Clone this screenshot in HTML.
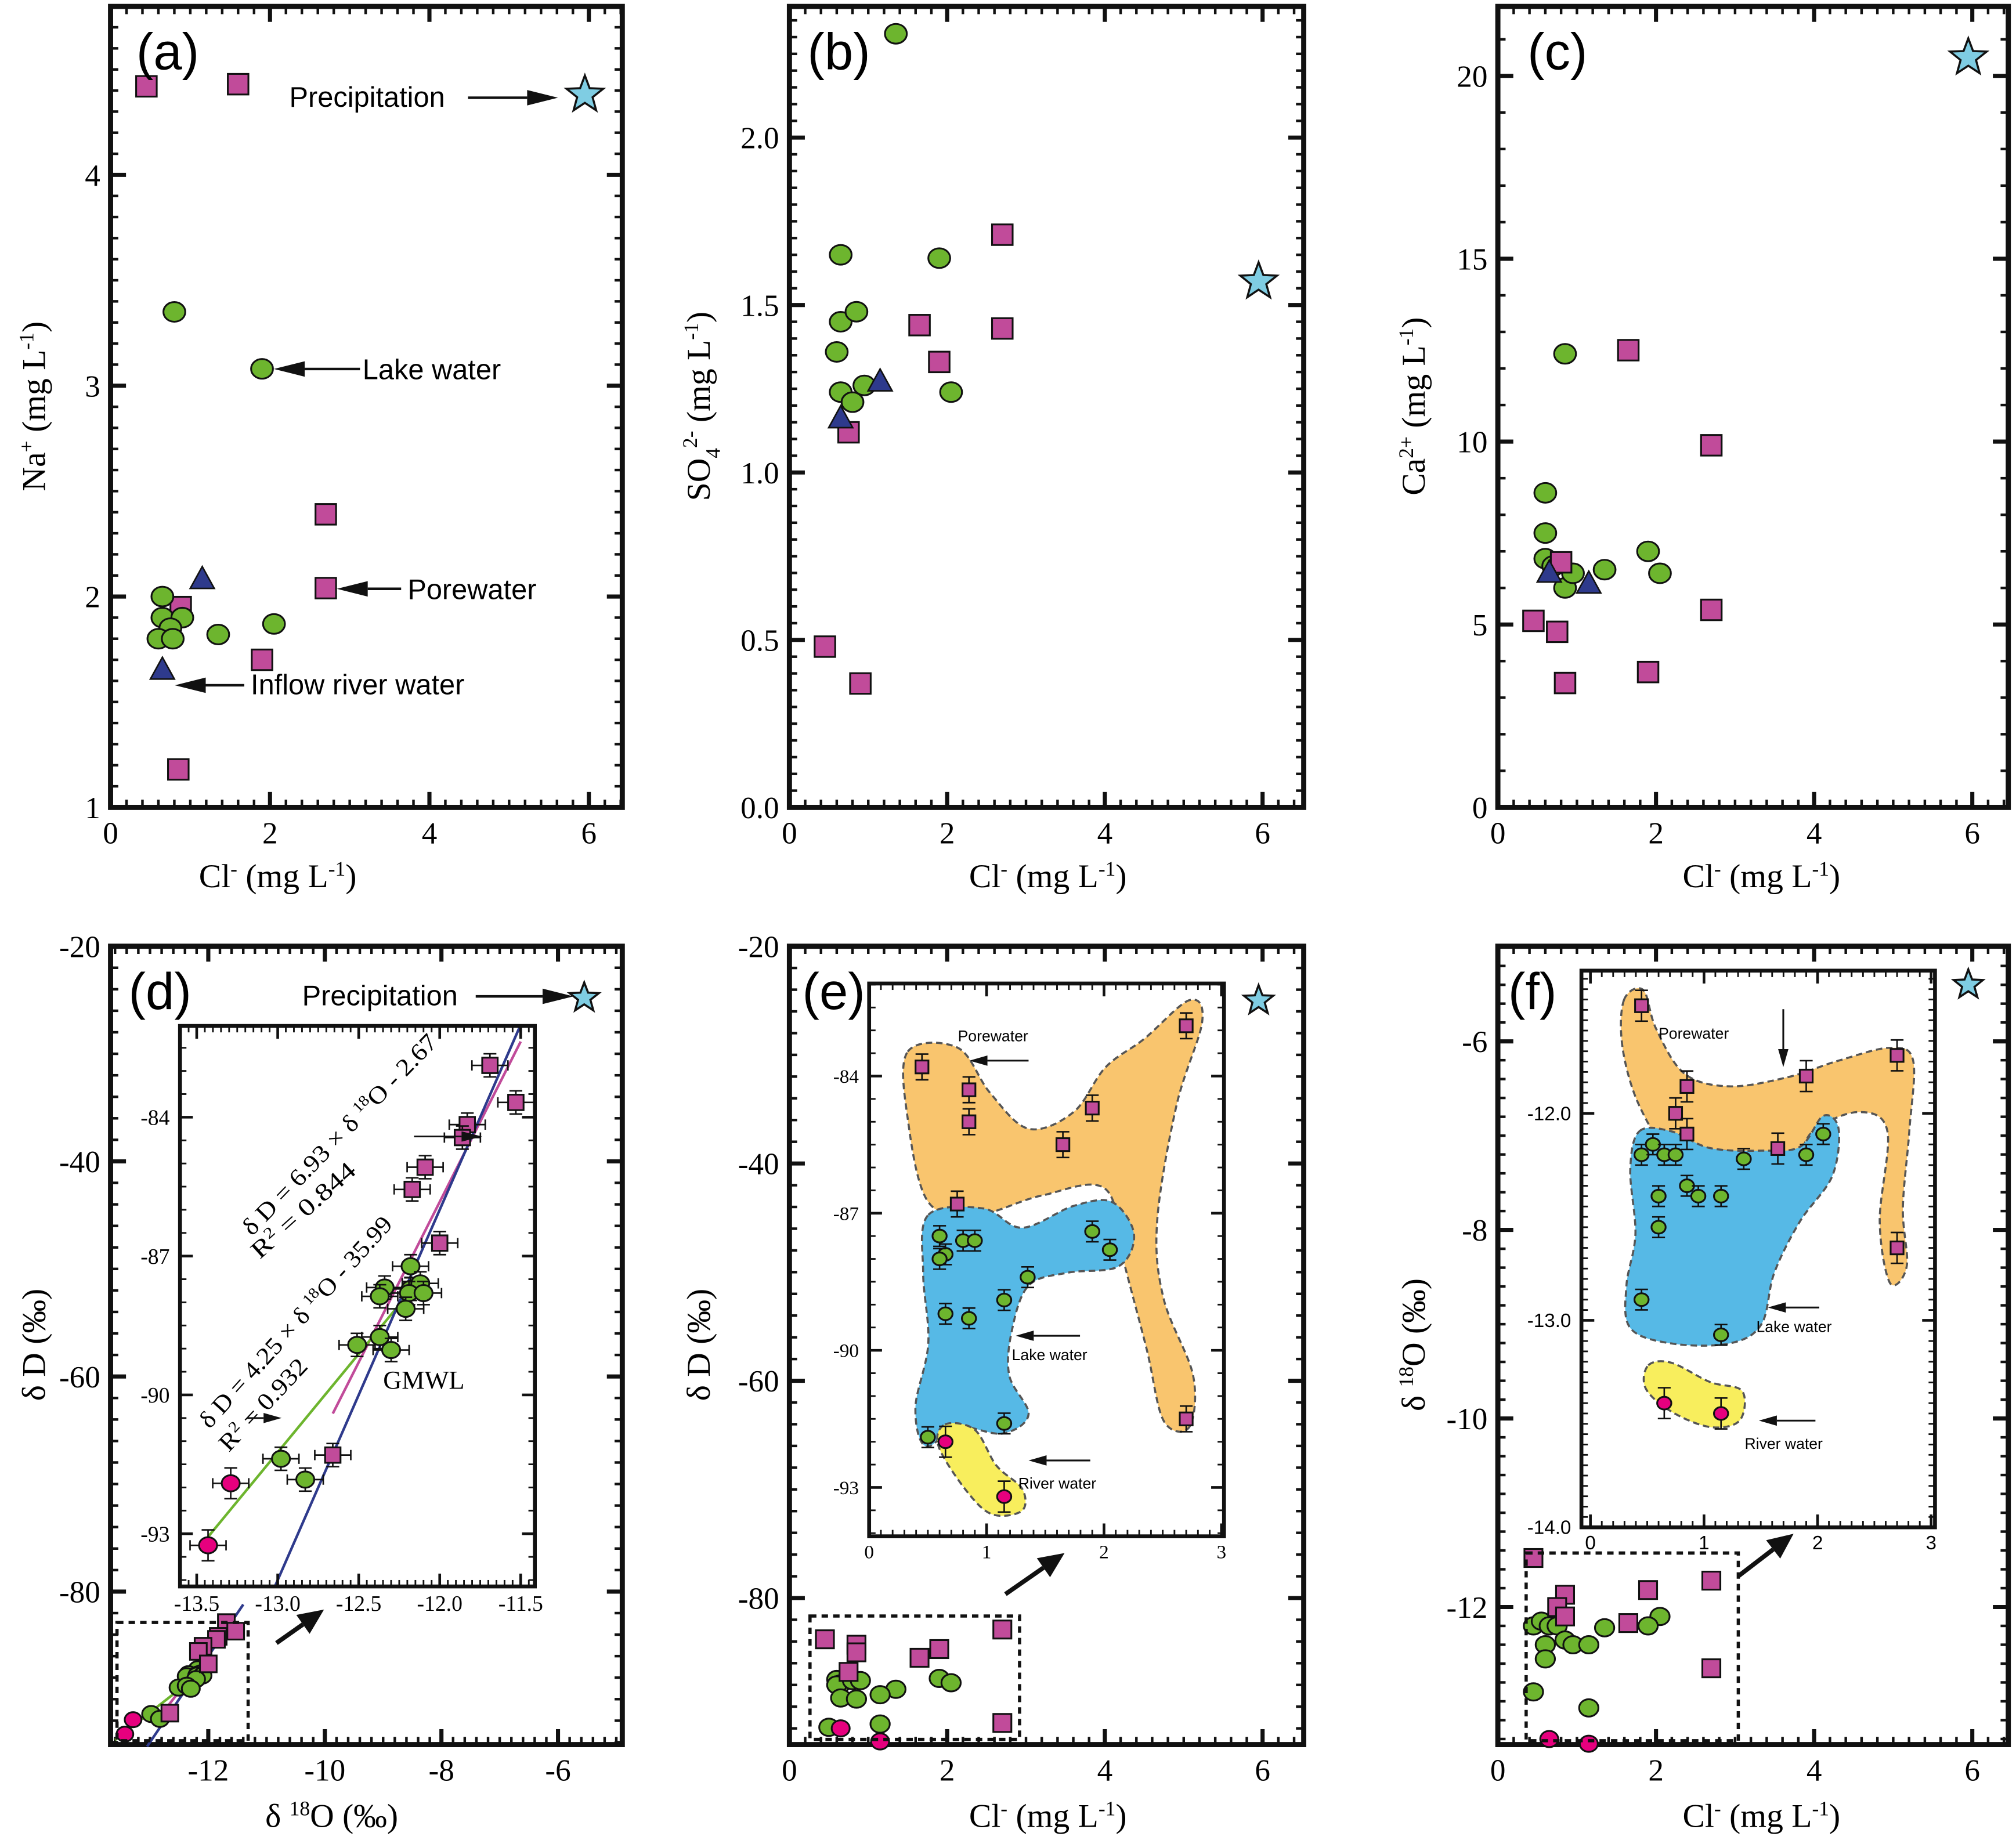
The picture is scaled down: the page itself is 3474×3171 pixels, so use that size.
<!DOCTYPE html>
<html><head><meta charset="utf-8"><style>
html,body{margin:0;padding:0;background:#fff}
svg{display:block}
.sr{font-family:"Liberation Serif",serif}
.ss{font-family:"Liberation Sans",sans-serif}
</style></head><body>
<svg id="fig" xmlns="http://www.w3.org/2000/svg" width="3474" height="3171" viewBox="0 0 1568 1431.2">
<rect x="0" y="0" width="1568" height="1431.2" fill="#fff"/>
<defs><clipPath id="clipd"><rect x="140" y="798" width="276" height="436"/></clipPath></defs>
<g id="root"></g>
</svg>
<script>
// ---------- data ----------
const aPoreCl=[0.45,1.6,2.7,2.7,0.88,0.75,1.9,0.85];
const aPoreNa=[4.42,4.43,2.39,2.04,1.95,1.83,1.70,1.18];
const aLakeCl=[0.8,1.9,0.65,0.65,0.9,0.75,0.6,1.35,2.05,0.78];
const aLakeNa=[3.35,3.08,2.0,1.9,1.9,1.85,1.8,1.82,1.87,1.8];
const aRivCl=[1.15,0.65];
const aRivNa=[2.08,1.65];
const aPrecCl=[5.95];
const aPrecNa=[4.38];

const bLakeCl=[1.35,0.65,1.9,0.65,0.85,0.6,0.65,0.95,2.05,0.8];
const bLakeSO4=[2.31,1.65,1.64,1.45,1.48,1.36,1.24,1.26,1.24,1.21];
const bPoreCl=[2.7,1.65,2.7,1.9,0.75,0.45,0.9];
const bPoreSO4=[1.71,1.44,1.43,1.33,1.12,0.48,0.37];
const bRivCl=[0.65,1.15];
const bRivSO4=[1.16,1.27];
const bPrecCl=[5.95];
const bPrecSO4=[1.57];

const cLakeCl=[0.85,0.6,0.6,0.6,1.35,1.9,2.05,0.85,0.95,0.7];
const cLakeCa=[12.4,8.6,7.5,6.8,6.5,7.0,6.4,6.0,6.4,6.6];
const cPoreCl=[1.65,2.7,0.8,2.7,0.45,0.75,0.85,1.9];
const cPoreCa=[12.5,9.9,6.7,5.4,5.1,4.8,3.4,3.7];
const cRivCl=[0.65,1.15];
const cRivCa=[6.4,6.1];
const cPrecCl=[5.95];
const cPrecCa=[20.5];

const dPoreO=[-11.69,-11.53,-11.83,-11.86,-12.09,-12.17,-12.0,-12.66];
const dPoreD=[-82.88,-83.68,-84.16,-84.44,-85.08,-85.56,-86.72,-91.3];
const dLakeO=[-12.18,-12.34,-12.37,-12.18,-12.12,-12.19,-12.10,-12.21,-12.51,-12.37,-12.30,-12.98,-12.83];
const dLakeD=[-87.22,-87.68,-87.87,-87.71,-87.59,-87.8,-87.8,-88.14,-88.92,-88.75,-89.03,-91.38,-91.83];
const dRivO=[-13.29,-13.43];
const dRivD=[-91.91,-93.25];
const dPrecO=[-5.55];
const dPrecD=[-24.8];

const ePoreCl=[0.45,0.85,0.85,2.7,1.9,1.65,0.75,2.7];
const ePoreD=[-83.8,-84.3,-85.0,-82.9,-84.7,-85.5,-86.8,-91.5];
const eLakeCl=[0.6,0.65,0.6,0.8,0.9,1.9,2.05,1.35,1.15,0.65,0.85,0.5,1.15];
const eLakeD=[-87.5,-87.9,-88.0,-87.6,-87.6,-87.4,-87.8,-88.4,-88.9,-89.2,-89.3,-91.9,-91.6];
const eRivCl=[0.65,1.15];
const eRivD=[-92.0,-93.2];
const ePrecCl=[5.95];
const ePrecD=[-25.0];

const fPoreCl=[0.45,2.7,0.85,1.9,0.75,0.85,1.65,2.7];
const fPoreO=[-11.48,-11.72,-11.87,-11.82,-12.0,-12.1,-12.17,-12.65];
const fLakeCl=[0.45,0.55,0.65,0.75,2.05,1.9,1.35,0.85,0.95,0.6,1.15,0.6,0.45,1.15];
const fLakeO=[-12.2,-12.15,-12.2,-12.2,-12.1,-12.2,-12.22,-12.35,-12.4,-12.4,-12.4,-12.55,-12.9,-13.07];
const fRivCl=[0.65,1.15];
const fRivO=[-13.4,-13.45];
const fPrecCl=[5.95];
const fPrecO=[-5.4];

const lineSlopes=[6.93,4.25,8];
const lineIntercepts=[-2.67,-35.99,10];

// ---------- helpers ----------
const NS="http://www.w3.org/2000/svg";
const root=document.getElementById('root');
function el(tag,attrs,parent){const e=document.createElementNS(NS,tag);for(const k in attrs)e.setAttribute(k,attrs[k]);(parent||root).appendChild(e);return e;}
function txt(s,attrs,parent){const e=el('text',attrs,parent);e.textContent=s;return e;}
function scale(d0,p0,d1,p1){return v=>p0+(v-d0)*(p1-p0)/(d1-d0);}
const C={pore:'#c14b9a',lake:'#6db52e',riv:'#2e3a8c',red:'#e6007e',prec:'#7fcde3'};

function frame(x0,y0,x1,y1,sw,name){
  const r=el('rect',{x:x0,y:y0,width:x1-x0,height:y1-y0,fill:'none',stroke:'#111','stroke-width':sw});
  
}
function ticks(P,xMaj,xMin,yMaj,yMin,L,l,sw){
  const g=el('g',{stroke:'#111'});
  
  xMin.forEach(v=>{const x=P.sx(v);if(x<P.x0||x>P.x1)return;
    el('line',{x1:x,x2:x,y1:P.y1,y2:P.y1-l,'stroke-width':sw},g);el('line',{x1:x,x2:x,y1:P.y0,y2:P.y0+l,'stroke-width':sw},g);});
  xMaj.forEach(v=>{const x=P.sx(v);
    el('line',{x1:x,x2:x,y1:P.y1,y2:P.y1-L,'stroke-width':sw*1.6},g);el('line',{x1:x,x2:x,y1:P.y0,y2:P.y0+L,'stroke-width':sw*1.6},g);});
  yMin.forEach(v=>{const y=P.sy(v);if(y<P.y0||y>P.y1)return;
    el('line',{x1:P.x0,x2:P.x0+l,y1:y,y2:y,'stroke-width':sw},g);el('line',{x1:P.x1,x2:P.x1-l,y1:y,y2:y,'stroke-width':sw},g);});
  yMaj.forEach(v=>{const y=P.sy(v);
    el('line',{x1:P.x0,x2:P.x0+L,y1:y,y2:y,'stroke-width':sw*1.6},g);el('line',{x1:P.x1,x2:P.x1-L,y1:y,y2:y,'stroke-width':sw*1.6},g);});
}
function range(a,b,s){const r=[];for(let v=a;v<=b+1e-9;v+=s)r.push(+v.toFixed(6));return r;}
function tickLabels(P,xs,xl,ys,yl,fs,cls,dy){
  xs.forEach((v,i)=>{const t=txt(xl[i],{x:P.sx(v),y:P.y1+fs+(dy||4),'font-size':fs,'text-anchor':'middle',class:cls});
    });
  ys.forEach((v,i)=>{const t=txt(yl[i],{x:P.x0-8,y:P.sy(v)+fs*0.35,'font-size':fs,'text-anchor':'end',class:cls});
    });
}
function sq(P,xs,ys,s,err){xs.forEach((v,i)=>{const x=P.sx(v),y=P.sy(ys[i]);
  if(err)ebar(x,y,err);
  const r=el('rect',{x:x-s/2,y:y-s/2,width:s,height:s,fill:C.pore,stroke:'#111','stroke-width':1.4});
  });}
function circ(P,xs,ys,r,col,err,name){xs.forEach((v,i)=>{const x=P.sx(v),y=P.sy(ys[i]);
  if(err)ebar(x,y,err);
  const c=el('ellipse',{cx:x,cy:y,rx:r,ry:r*0.9,fill:col,stroke:'#111','stroke-width':1.4});
  });}
function tri(P,xs,ys,s){xs.forEach((v,i)=>{const x=P.sx(v),y=P.sy(ys[i]);
  const t=el('polygon',{points:`${x},${y-s*0.6} ${x+s*0.55},${y+s*0.4} ${x-s*0.55},${y+s*0.4}`,fill:C.riv,stroke:'#111','stroke-width':1.2});
  });}
function star(P,xs,ys,R){xs.forEach((v,i)=>{const x=P.sx(v),y=P.sy(ys[i]);let pts=[];
  for(let k=0;k<10;k++){const a=-Math.PI/2+k*Math.PI/5;const rr=k%2?R*0.42:R;pts.push((x+rr*Math.cos(a)).toFixed(1)+','+(y+rr*Math.sin(a)).toFixed(1));}
  const s=el('polygon',{points:pts.join(' '),fill:C.prec,stroke:'#111','stroke-width':1.6});
  });}
function ebar(x,y,e){const g=el('g',{stroke:'#111','stroke-width':1.2});
  el('line',{x1:x,x2:x,y1:y-e,y2:y+e},g);el('line',{x1:x-5,x2:x+5,y1:y-e,y2:y-e},g);el('line',{x1:x-5,x2:x+5,y1:y+e,y2:y+e},g);}
function hbar(x,y,e){const g=el('g',{stroke:'#111','stroke-width':1.2});
  el('line',{x1:x-e,x2:x+e,y1:y,y2:y},g);el('line',{x1:x-e,x2:x-e,y1:y-4,y2:y+4},g);el('line',{x1:x+e,x2:x+e,y1:y-4,y2:y+4},g);}
function arrow(x1,y1,x2,y2,w,hw,hl,name){
  const dx=x2-x1,dy=y2-y1,L=Math.hypot(dx,dy),ux=dx/L,uy=dy/L,bx=x2-ux*hl,by=y2-uy*hl;
  const g=el('g',{});
  el('line',{x1:x1,y1:y1,x2:bx,y2:by,stroke:'#111','stroke-width':w},g);
  el('polygon',{points:`${x2},${y2} ${bx-uy*hw},${by+ux*hw} ${bx+uy*hw},${by-ux*hw}`,fill:'#111'},g);}
function label(s,x,y,fs,cls,name,extra){const t=txt(s,Object.assign({x:x,y:y,'font-size':fs,class:cls},extra||{}));
  return t;}
function ylab(html,x,y,fs,name){const t=el('text',{transform:`translate(${x},${y}) rotate(-90)`,'font-size':fs,'text-anchor':'middle',class:'sr'});
  t.innerHTML=html;}
function xlab(html,x,y,fs,name){const t=el('text',{x:x,y:y,'font-size':fs,'text-anchor':'middle',class:'sr'});
  t.innerHTML=html;}
function blob(d,fill,name){const p=el('path',{d:d,fill:fill,stroke:'#555','stroke-width':1.6,'stroke-dasharray':'5,3'});
  }
function smooth(pts){let d='M'+pts[0].join(',');const n=pts.length;
  for(let i=0;i<n;i++){const p0=pts[(i-1+n)%n],p1=pts[i],p2=pts[(i+1)%n],p3=pts[(i+2)%n];
    const c1=[p1[0]+(p2[0]-p0[0])/6,p1[1]+(p2[1]-p0[1])/6],c2=[p2[0]-(p3[0]-p1[0])/6,p2[1]-(p3[1]-p1[1])/6];
    d+=` C${c1[0].toFixed(1)},${c1[1].toFixed(1)} ${c2[0].toFixed(1)},${c2[1].toFixed(1)} ${p2[0]},${p2[1]}`;}
  return d+'Z';}
function rotText(html,x1,y1,x2,y2,fs,name){const ang=Math.atan2(y2-y1,x2-x1)*180/Math.PI,len=Math.hypot(x2-x1,y2-y1);
  const t=el('text',{transform:`translate(${x1},${y1}) rotate(${ang.toFixed(1)})`,'font-size':fs,class:'sr',textLength:len.toFixed(0),lengthAdjust:'spacingAndGlyphs'});
  t.innerHTML=html;}
const clLab='Cl<tspan dy="-9" font-size="16">-</tspan><tspan dy="9"> (mg L</tspan><tspan dy="-9" font-size="16">-1</tspan><tspan dy="9">)</tspan>';
const FS=24, LFS=26;

// ---------- panel a ----------
{const P={x0:86,x1:484,y0:5,y1:628};P.sx=scale(0,86,6,458);P.sy=scale(1,628,4,136);
 frame(P.x0,P.y0,P.x1,P.y1,4,'panel-a-frame');
 ticks(P,[0,2,4,6],range(0,6.4,0.2),[1,2,3,4],range(1,4.8,0.1),12,6,2);
 tickLabels(P,[0,2,4,6],['0','2','4','6'],[1,2,3,4],['1','2','3','4'],FS,'sr');
 sq(P,aPoreCl,aPoreNa,16);circ(P,aLakeCl,aLakeNa,8.5,C.lake,0,'lake-water-point');tri(P,aRivCl,aRivNa,17);star(P,aPrecCl,aPrecNa,15);
 label('(a)',106,54,40,'ss','panel-a-label');
 label('Precipitation',225,83,22,'ss','precipitation-annotation');arrow(364,76,434,76,2,6,24,'precipitation-arrow');
 label('Lake water',282,295,22,'ss','lake-water-annotation');arrow(280,287,213,287,2,6,24,'lake-water-arrow');
 label('Porewater',317,466,22,'ss','porewater-annotation');arrow(312,458,262,458,2,6,24,'porewater-arrow');
 label('Inflow river water',195,540,22,'ss','inflow-river-annotation');arrow(190,533,136,533,2,6,24,'inflow-river-arrow');
 ylab('Na<tspan dy="-9" font-size="16">+</tspan><tspan dy="9"> (mg L</tspan><tspan dy="-9" font-size="16">-1</tspan><tspan dy="9">)</tspan>',35,316,LFS,'y-axis-title-a');
 xlab(clLab,216,690,LFS,'x-axis-title-a');}

// ---------- panel b ----------
{const P={x0:614,x1:1014,y0:5,y1:628};P.sx=scale(0,614,6,982);P.sy=scale(0,628,2,107);
 frame(P.x0,P.y0,P.x1,P.y1,4,'panel-b-frame');
 ticks(P,[0,2,4,6],range(0,6.4,0.2),[0,0.5,1,1.5,2],range(0,2.4,0.05),12,6,2);
 tickLabels(P,[0,2,4,6],['0','2','4','6'],[0,0.5,1,1.5,2],['0.0','0.5','1.0','1.5','2.0'],FS,'sr');
 circ(P,bLakeCl,bLakeSO4,8.5,C.lake,0,'lake-water-point');sq(P,bPoreCl,bPoreSO4,16);tri(P,bRivCl,bRivSO4,17);star(P,bPrecCl,bPrecSO4,15);
 label('(b)',628,54,40,'ss','panel-b-label');
 ylab('SO<tspan dy="8" font-size="16">4</tspan><tspan dy="-18" font-size="16">2-</tspan><tspan dy="10"> (mg L</tspan><tspan dy="-9" font-size="16">-1</tspan><tspan dy="9">)</tspan>',552,316,LFS,'y-axis-title-b');
 xlab(clLab,815,690,LFS,'x-axis-title-b');}

// ---------- panel c ----------
{const P={x0:1165,x1:1562,y0:5,y1:628};P.sx=scale(0,1165,6,1534);P.sy=scale(0,628,20,59);
 frame(P.x0,P.y0,P.x1,P.y1,4,'panel-c-frame');
 ticks(P,[0,2,4,6],range(0,6.4,0.2),[0,5,10,15,20],range(0,21.5,1),12,6,2);
 tickLabels(P,[0,2,4,6],['0','2','4','6'],[0,5,10,15,20],['0','5','10','15','20'],FS,'sr');
 circ(P,cLakeCl,cLakeCa,8.5,C.lake,0,'lake-water-point');sq(P,cPoreCl,cPoreCa,16);tri(P,cRivCl,cRivCa,17);star(P,cPrecCl,cPrecCa,15);
 label('(c)',1188,54,40,'ss','panel-c-label');
 ylab('Ca<tspan dy="-9" font-size="16">2+</tspan><tspan dy="9"> (mg L</tspan><tspan dy="-9" font-size="16">-1</tspan><tspan dy="9">)</tspan>',1108,316,LFS,'y-axis-title-c');
 xlab(clLab,1370,690,LFS,'x-axis-title-c');}

// ---------- panel d ----------
{const P={x0:86,x1:484,y0:736,y1:1357};P.sx=scale(-12,162,-6,434);P.sy=scale(-20,736,-80,1238);
 frame(P.x0,P.y0,P.x1,P.y1,4,'panel-d-frame');
 ticks(P,[-12,-10,-8,-6],range(-13.6,-5,0.2),[-20,-40,-60,-80],range(-94,-20,2),12,6,2);
 tickLabels(P,[-12,-10,-8,-6],['-12','-10','-8','-6'],[-20,-40,-60,-80],['-20','-40','-60','-80'],FS,'sr');
 const lx=[[-12.7,-11.55],[-13.6,-12.1],[-13.05,-11.4]],lc=[C.pore,C.lake,C.riv];
 lineSlopes.forEach((m,i)=>{el('line',{x1:P.sx(lx[i][0]),y1:P.sy(m*lx[i][0]+lineIntercepts[i]),x2:P.sx(lx[i][1]),y2:P.sy(m*lx[i][1]+lineIntercepts[i]),stroke:lc[i],'stroke-width':2});});
 circ(P,dLakeO,dLakeD,7,C.lake,4,'lake-water-point');sq(P,dPoreO,dPoreD,13,4);circ(P,dRivO,dRivD,6.5,C.red,0,'river-water-point');star(P,dPrecO,dPrecD,12);
 el('rect',{x:91,y:1262,width:102,height:92,fill:'none',stroke:'#111','stroke-width':2.5,'stroke-dasharray':'5,4'});
 arrow(215,1278,252,1252,3.5,9,20,'zoom-arrow-d');
 label('(d)',100,785,40,'ss','panel-d-label');
 label('Precipitation',235,782,22,'ss','precipitation-annotation');arrow(370,775,446,775,2,6,24,'precipitation-arrow');
 ylab('δ D (‰)',35,1046,LFS,'y-axis-title-d');
 xlab('δ <tspan dy="-9" font-size="16">18</tspan><tspan dy="9">O (‰)</tspan>',258,1421,LFS,'x-axis-title-d');
 // inset d
 const Q={x0:140,x1:416,y0:798,y1:1234};Q.sx=scale(-13,216,-12,342);Q.sy=scale(-84,869,-93,1193);
 el('rect',{x:140,y:798,width:276,height:436,fill:'#fff'});
 const lg=el('g',{'clip-path':'url(#clipd)'});
 lineSlopes.forEach((m,i)=>{const xs=[[-12.66,-11.5],[-13.43,-12.1],[-13.1,-11.3]][i];
   let x1=xs[0],x2=xs[1];
   const l=el('line',{x1:Q.sx(x1),y1:Q.sy(m*x1+lineIntercepts[i]),x2:Q.sx(x2),y2:Q.sy(m*x2+lineIntercepts[i]),stroke:lc[i],'stroke-width':2},lg);
   });
 frame(Q.x0,Q.y0,Q.x1,Q.y1,3,'inset-d-frame');
 ticks(Q,[-13.5,-13,-12.5,-12,-11.5],range(-13.6,-11.4,0.05),[-84,-87,-90,-93],range(-94,-80,0.5),10,5,1.3);
 tickLabels(Q,[-13.5,-13,-12.5,-12,-11.5],['-13.5','-13.0','-12.5','-12.0','-11.5'],[-84,-87,-90,-93],['-84','-87','-90','-93'],17,'sr',2);
 dLakeO.forEach((v,i)=>hbar(Q.sx(v),Q.sy(dLakeD[i]),14));dPoreO.forEach((v,i)=>hbar(Q.sx(v),Q.sy(dPoreD[i]),14));dRivO.forEach((v,i)=>hbar(Q.sx(v),Q.sy(dRivD[i]),14));
 circ(Q,dLakeO,dLakeD,7,C.lake,9,'lake-water-point');sq(Q,dPoreO,dPoreD,12,9);circ(Q,dRivO,dRivD,7,C.red,12,'river-water-point');
 rotText('δ D = 6.93 × δ <tspan dy="-7" font-size="12">18</tspan><tspan dy="7">O - 2.67</tspan>',196,962,341,812,19,'equation-porewater');
 rotText('R<tspan dy="-7" font-size="12">2</tspan><tspan dy="7"> = 0.844</tspan>',202,980,278,912,19,'r2-porewater');
 rotText('δ D = 4.25 × δ <tspan dy="-7" font-size="12">18</tspan><tspan dy="7">O - 35.99</tspan>',163,1112,306,953,19,'equation-lake');
 rotText('R<tspan dy="-7" font-size="12">2</tspan><tspan dy="7"> = 0.932</tspan>',178,1130,240,1064,19,'r2-lake');
 label('GMWL',298,1080,20,'sr','gmwl-label');
 arrow(322,884,375,884,1.3,4,16,'porewater-line-arrow');arrow(192,1103,219,1103,1.3,4,14,'lake-line-arrow');}

// ---------- panel e ----------
{const P={x0:614,x1:1014,y0:736,y1:1357};P.sx=scale(0,614,6,982);P.sy=scale(-20,736,-80,1243);
 frame(P.x0,P.y0,P.x1,P.y1,4,'panel-e-frame');
 ticks(P,[0,2,4,6],range(0,6.4,0.2),[-20,-40,-60,-80],range(-94,-20,2),12,6,2);
 tickLabels(P,[0,2,4,6],['0','2','4','6'],[-20,-40,-60,-80],['-20','-40','-60','-80'],FS,'sr');
 circ(P,eLakeCl,eLakeD,7.5,C.lake,0,'lake-water-point');sq(P,ePoreCl,ePoreD,14);circ(P,eRivCl,eRivD,7,C.red,0,'river-water-point');star(P,ePrecCl,ePrecD,12);
 el('rect',{x:630,y:1257,width:163,height:96,fill:'none',stroke:'#111','stroke-width':2.5,'stroke-dasharray':'5,4'});
 arrow(782,1240,828,1208,3.5,9,20,'zoom-arrow-e');
 label('(e)',624,785,40,'ss','panel-e-label');
 ylab('δ D (‰)',552,1046,LFS,'y-axis-title-e');
 xlab(clLab,815,1421,LFS,'x-axis-title-e');
 const Q={x0:676,x1:952,y0:765,y1:1195};Q.sx=scale(0,676,3,950);Q.sy=scale(-84,837,-93,1157);
 el('rect',{x:676,y:765,width:276,height:430,fill:'#fff'});
 blob(smooth([[706,818],[745,815],[770,850],[800,878],[835,865],[860,830],[890,808],[925,778],[935,795],[915,860],[900,950],[905,1010],[928,1070],[925,1110],[905,1105],[892,1050],[875,985],[860,925],[810,930],[760,945],[722,935],[706,870]]),'#f9c56e','porewater-region');
 blob(smooth([[722,945],[765,940],[795,955],[835,938],[865,935],[882,960],[870,985],[830,990],[800,1000],[787,1035],[785,1070],[800,1100],[780,1115],[745,1110],[720,1125],[712,1095],[722,1045],[718,990]]),'#56b9e6','lake-region');
 blob(smooth([[735,1108],[758,1112],[775,1140],[795,1158],[795,1175],[772,1178],[752,1160],[730,1125]]),'#f8ee5d','river-region');
 frame(Q.x0,Q.y0,Q.x1,Q.y1,3,'inset-e-frame');
 ticks(Q,[0,1,2,3],range(0,3,0.1),[-84,-87,-90,-93],range(-94,-82,0.5),10,5,1.3);
 tickLabels(Q,[0,1,2,3],['0','1','2','3'],[-84,-87,-90,-93],['-84','-87','-90','-93'],15,'sr',2);
 circ(Q,eLakeCl,eLakeD,5.5,C.lake,8,'lake-water-point');sq(Q,ePoreCl,ePoreD,10,10);circ(Q,eRivCl,eRivD,5.5,C.red,12,'river-water-point');
 label('Porewater',745,810,12,'ss','porewater-annotation');arrow(800,825,754,825,1.4,4,14,'porewater-arrow');
 label('Lake water',787,1058,12,'ss','lake-water-annotation');arrow(840,1039,790,1039,1.4,4,14,'lake-water-arrow');
 label('River water',792,1158,12,'ss','river-water-annotation');arrow(848,1136,800,1136,1.4,4,14,'river-water-arrow');}

// ---------- panel f ----------
{const P={x0:1165,x1:1562,y0:736,y1:1357};P.sx=scale(0,1165,6,1534);P.sy=scale(-6,810,-12,1250);
 frame(P.x0,P.y0,P.x1,P.y1,4,'panel-f-frame');
 ticks(P,[0,2,4,6],range(0,6.4,0.2),[-6,-8,-10,-12],range(-13.4,-5,0.2),12,6,2);
 tickLabels(P,[0,2,4,6],['0','2','4','6'],[-6,-8,-10,-12],['-6','-8','-10','-12'],FS,'sr');
 circ(P,fLakeCl,fLakeO,7.5,C.lake,5,'lake-water-point');sq(P,fPoreCl,fPoreO,14,5);circ(P,fRivCl,fRivO,7,C.red,0,'river-water-point');star(P,fPrecCl,fPrecO,12);
 el('rect',{x:1187,y:1208,width:165,height:146,fill:'none',stroke:'#111','stroke-width':2.5,'stroke-dasharray':'5,4'});
 arrow(1352,1226,1395,1193,3.5,9,20,'zoom-arrow-f');
 label('(f)',1173,785,40,'ss','panel-f-label');
 ylab('δ <tspan dy="-9" font-size="16">18</tspan><tspan dy="9">O (‰)</tspan>',1108,1046,LFS,'y-axis-title-f');
 xlab(clLab,1370,1421,LFS,'x-axis-title-f');
 const Q={x0:1230,x1:1505,y0:755,y1:1188};Q.sx=scale(0,1237,3,1502);Q.sy=scale(-12,866,-14,1188);
 el('rect',{x:1230,y:755,width:275,height:433,fill:'#fff'});
 blob(smooth([[1263,778],[1278,770],[1288,800],[1310,835],[1345,845],[1390,838],[1430,825],[1470,815],[1488,825],[1485,880],[1480,940],[1483,985],[1470,998],[1462,950],[1468,880],[1445,865],[1410,880],[1395,905],[1370,900],[1340,895],[1300,895],[1275,860],[1262,815]]),'#f9c56e','porewater-region');
 blob(smooth([[1275,880],[1300,880],[1330,893],[1370,895],[1400,892],[1418,868],[1430,878],[1425,915],[1400,950],[1380,990],[1370,1030],[1345,1045],[1300,1045],[1268,1033],[1265,1000],[1272,960],[1268,910]]),'#56b9e6','lake-region');
 blob(smooth([[1282,1062],[1300,1060],[1330,1075],[1355,1082],[1353,1105],[1330,1110],[1300,1098],[1280,1080]]),'#f8ee5d','river-region');
 frame(Q.x0,Q.y0,Q.x1,Q.y1,3,'inset-f-frame');
 ticks(Q,[0,1,2,3],range(0,3,0.1),[-12,-13,-14],range(-14,-11.3,0.05),10,5,1.3);
 tickLabels(Q,[0,1,2,3],['0','1','2','3'],[-12,-13,-14],['-12.0','-13.0','-14.0'],15,'ss',2);
 circ(Q,fLakeCl,fLakeO,5.5,C.lake,8,'lake-water-point');sq(Q,fPoreCl,fPoreO,10,12);circ(Q,fRivCl,fRivO,5.5,C.red,12,'river-water-point');
 label('Porewater',1290,808,12,'ss','porewater-annotation');arrow(1387,785,1387,830,1.4,4,14,'porewater-arrow');
 label('Lake water',1366,1036,12,'ss','lake-water-annotation');arrow(1415,1017,1375,1017,1.4,4,14,'lake-water-arrow');
 label('River water',1357,1127,12,'ss','river-water-annotation');arrow(1412,1105,1368,1105,1.4,4,14,'river-water-arrow');}
</script>
</body></html>
